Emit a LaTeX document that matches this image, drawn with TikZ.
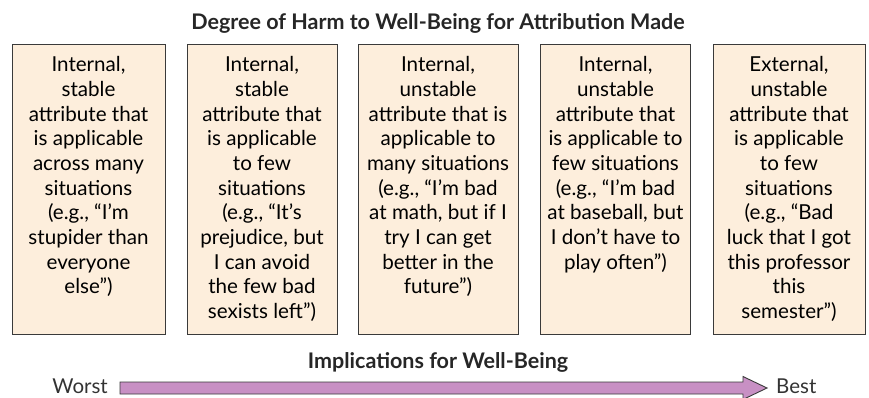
\documentclass[tikz,border=0pt]{standalone}
\usepackage{fontspec}
\setmainfont{Lato}
\usepackage{xcolor}
\usepackage{tikz}
\usetikzlibrary{arrows,shapes.arrows}

\definecolor{peach}{HTML}{FDEEDC}
\definecolor{mauve}{HTML}{C890C4}
\definecolor{edge}{HTML}{3A3A3A}

\newcommand{\boxtext}[2]{\parbox[t][266pt][t]{#1}{\centering\fontsize{20.6}{24.7}\selectfont #2}}

\begin{document}
\begin{tikzpicture}[x=1pt,y=-1pt]
\tikzstyle{harmbox}=[draw=edge, line width=0.9pt, fill=peach, anchor=north, inner xsep=0pt, inner ysep=11pt, minimum height=290pt]
\tikzstyle{heading}=[font=\fontsize{21.5}{24}\selectfont\bfseries, text=black!85]
\tikzstyle{endlabel}=[font=\fontsize{20.5}{24}\selectfont, text=black!80, inner sep=0pt]
\useasboundingbox (0,0) rectangle (869,398);
\node [heading] (title) at (438,23) {Degree of Harm to Well-Being for Attribution Made};
\node [harmbox, minimum width=153pt] (b1) at (88.5,44) {\boxtext{153pt}{Internal,\\ stable\\ attribute that\\ is applicable\\ across many\\ situations\\ (e.g., “I’m\\ stupider than\\ everyone\\ else”)}};
\node [harmbox, minimum width=150pt] (b2) at (262,44) {\boxtext{150pt}{Internal,\\ stable\\ attribute that\\ is applicable\\ to few\\ situations\\ (e.g., “It’s\\ prejudice, but\\ I can avoid\\ the few bad\\ sexists left”)}};
\node [harmbox, minimum width=160pt] (b3) at (438,44) {\boxtext{160pt}{Internal,\\ unstable\\ attribute that is\\ applicable to\\ many situations\\ (e.g., “I’m bad\\ at math, but if I\\ try I can get\\ better in the\\ future”)}};
\node [harmbox, minimum width=150pt] (b4) at (615.5,44) {\boxtext{150pt}{Internal,\\ unstable\\ attribute that\\ is applicable to\\ few situations\\ (e.g., “I’m bad\\ at baseball, but\\ I don’t have to\\ play often”)}};
\node [harmbox, minimum width=152pt] (b5) at (789,44) {\boxtext{152pt}{External,\\ unstable\\ attribute that\\ is applicable\\ to few\\ situations\\ (e.g., “Bad\\ luck that I got\\ this professor\\ this\\ semester”)}};
\node [heading] (impl) at (438,362) {Implications for Well-Being};
\node [endlabel, anchor=base east] (worst) at (108,393) {Worst};
\node [endlabel, anchor=base west] (best) at (776,393) {Best};
% arrow from worst to best
\draw [edge, line width=0.9pt, fill=mauve] (120,382) -- (743,382) -- (743,376.5) -- (767,388) -- (743,399.5) -- (743,394) -- (120,394) -- cycle;
\end{tikzpicture}
\end{document}
